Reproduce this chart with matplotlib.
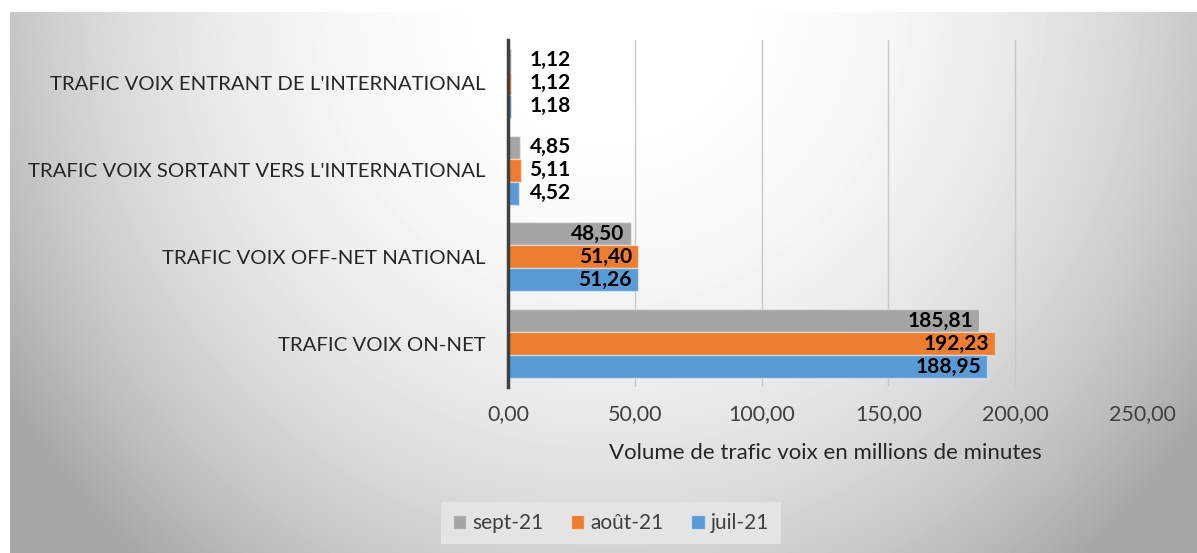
import numpy as np
import matplotlib
matplotlib.use("Agg")
import matplotlib.pyplot as plt

plt.rcParams['font.family'] = ['Lato', 'DejaVu Sans']

categories = ["TRAFIC VOIX ON-NET", "TRAFIC VOIX OFF-NET NATIONAL",
              "TRAFIC VOIX SORTANT VERS L'INTERNATIONAL",
              "TRAFIC VOIX ENTRANT DE L'INTERNATIONAL"]
series_names = ["sept-21", "août-21", "juil-21"]
sept21 = [185.81, 48.50, 4.85, 1.12]
aout21 = [192.23, 51.40, 5.11, 1.12]
juil21 = [188.95, 51.26, 4.52, 1.18]
colors = ["#A5A5A5", "#ED7D31", "#5B9BD5"]
xticks = [0, 50, 100, 150, 200, 250]

W, H = 1197, 553
fig = plt.figure(figsize=(W / 100, H / 100), dpi=100)

# gradient background of the chart area
bg = fig.add_axes([10 / W, 0, 1 - 10 / W, 1 - 12 / H], zorder=-5)
yy, xx = np.mgrid[0:541, 0:1187]
d = np.sqrt(((xx - 600) / 650.0) ** 2 + ((yy + 20) / 680.0) ** 2)
val = 255 - 70 * np.clip(d, 0, 1.1) ** 2.4
bg.imshow(val, cmap="gray", vmin=0, vmax=255, aspect="auto", interpolation="bilinear")
bg.axis("off")

ax = fig.add_axes([508 / W, 1 - 387 / H, (1142 - 508) / W, 347 / H])
ax.patch.set_alpha(0)

y = np.arange(len(categories))
h = 0.265
for vals, name, c, off in zip([sept21, aout21, juil21], series_names, colors, [h, 0, -h]):
    ax.barh(y + off, vals, height=h, color=c, edgecolor=(1, 1, 1, 0.45), linewidth=1,
            label=name, zorder=3)
    for yi, v in zip(y, vals):
        lbl = f"{v:.2f}".replace(".", ",")
        if v > 20:
            ax.text(v - 2.5, yi + off, lbl, ha="right", va="center", fontsize=15,
                    fontweight="bold", color="black", zorder=4)
        else:
            ax.text(max(v + 1.5, 8.5), yi + off, lbl, ha="left", va="center", fontsize=15,
                    fontweight="bold", color="black", zorder=4)

ax.set_xlim(0, 250)
ax.set_ylim(-0.5, 3.5)
ax.set_xticks(xticks)
ax.set_xticklabels([f"{t:.2f}".replace(".", ",") for t in xticks], fontsize=15.5, color="#404040")
ax.set_yticks(y)
ax.set_yticklabels(categories, fontsize=14.7, color="#262626")
ax.tick_params(axis="y", length=0, pad=16)
ax.tick_params(axis="x", length=0, pad=12)
ax.grid(axis="x", color="#c8c8c8", linewidth=1, zorder=0)
for s in ["top", "right", "bottom"]:
    ax.spines[s].set_visible(False)
ax.spines["left"].set_color("#404040")
ax.spines["left"].set_linewidth(2.5)
ax.spines["left"].set_zorder(5)
ax.set_xlabel("Volume de trafic voix en millions de minutes", fontsize=16, color="#262626",
              labelpad=14)

leg = fig.legend(loc="center", bbox_to_anchor=(611 / W, 1 - 523 / H), ncol=3, fontsize=15,
                 frameon=True, facecolor="#e4e4e4", edgecolor="none", framealpha=1,
                 handlelength=0.65, handleheight=0.65, handletextpad=0.3, columnspacing=1.3,
                 borderpad=0.55, borderaxespad=0)
leg.get_frame().set_boxstyle("square", pad=0)
for t in leg.get_texts():
    t.set_color("#404040")

fig.savefig("out.png", dpi=100)
